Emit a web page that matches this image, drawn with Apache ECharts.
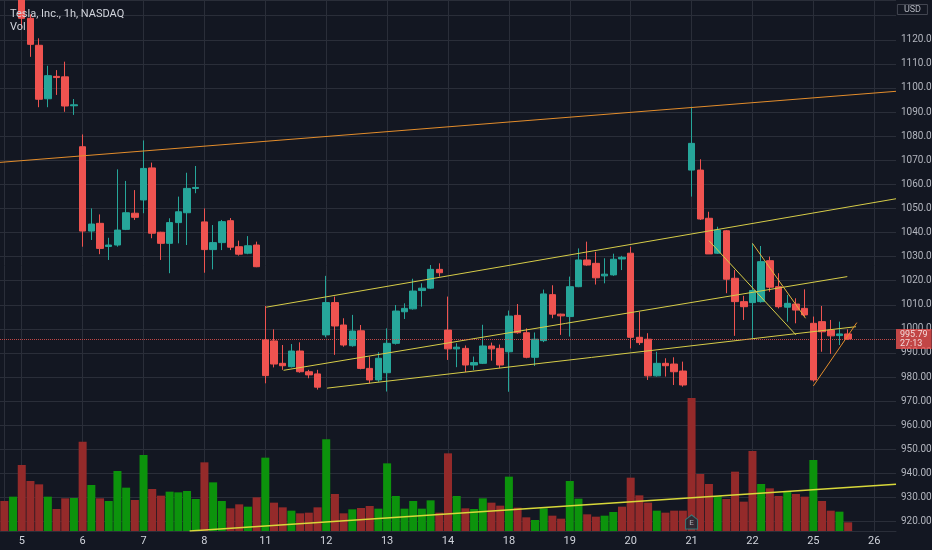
<!DOCTYPE html>
<html>
<head>
<meta charset="utf-8">
<title>Tesla, Inc., 1h</title>
<script src="https://cdn.jsdelivr.net/npm/echarts@6/dist/echarts.min.js"></script>
<style>
  html, body { margin: 0; padding: 0; background: #131722; }
  .kline { width: 932px; height: 550px; }
</style>
</head>
<body>
<div class="kline"></div>
<script>
// trading days on the time axis, 7 hourly bars a day
const days = [4, 5, 6, 7, 8, 11, 12, 13, 14, 18, 19, 20, 21, 22, 25, 26]
const barsPerDay = 7
const firstHour = 5   // the chart starts on the 6th bar of day 4
const lastHour = 2    // and the empty space runs to the 3rd bar of day 26

// OHLC per hourly bar
const opens = [1145, 1142, 1144, 1128.9, 1117.7, 1095.5, 1104.8, 1104.6, 1092.6,
  1075.6, 1040.6, 1043.8, 1034.2, 1034.8, 1041.3, 1048.0,
  1053.5, 1066.8, 1040.1, 1035.5, 1044.1, 1048.2, 1058.3,
  1044.4, 1032.9, 1035.8, 1044.9, 1034.1, 1031.4, 1034.8,
  995.4, 995.0, 985.7, 984.3, 990.8, 982.2, 981.3,
  997.5, 1010.9, 1001.6, 993.0, 999.2, 983.6, 978.8,
  981.8, 994.0, 1007.1, 1008.3, 1015.9, 1016.9, 1024.7,
  999.5, 991.7, 991.9, 985.0, 985.7, 992.9, 991.9,
  990.5, 1005.6, 998.4, 988.2, 995.1, 1014.2, 1006.1,
  1005.1, 1017.5, 1028.6, 1027.2, 1022.0, 1022.4, 1029.0,
  1031.4, 996.5, 995.7, 980.5, 985.7, 985.4, 982.5,
  1065.9, 1065.9, 1045.9, 1031.4, 1040.7, 1021.0, 1011.3,
  1010.9, 1011.3, 1028.3, 1017.5, 1009.0, 1010.3, 1008.5,
  1002.3, 1003.0, 999.5, 997.2, 997.9]
const highs = [1150, 1149, 1148, 1130.5, 1120.6, 1109.2, 1107.4, 1110.9, 1095.4,
  1080.7, 1050.0, 1047.5, 1037.8, 1066.2, 1061.4, 1057.6,
  1078.2, 1069.0, 1040.3, 1045.9, 1054.9, 1064.8, 1067.6,
  1050.0, 1043.1, 1045.2, 1046.0, 1036.6, 1038.5, 1036.2,
  1009.5, 999.8, 993.3, 993.7, 994.4, 983.0, 983.0,
  1022.0, 1013.4, 1004.4, 1005.8, 1001.6, 988.5, 990.3,
  1000.2, 1009.9, 1010.6, 1020.8, 1018.9, 1026.5, 1027.2,
  1013.4, 994.0, 993.1, 988.5, 1001.7, 994.3, 993.5,
  1007.6, 1010.3, 1000.2, 998.5, 1016.3, 1018.1, 1006.3,
  1021.7, 1033.4, 1036.2, 1032.0, 1029.3, 1031.2, 1030.3,
  1034.1, 1007.1, 998.2, 990.5, 987.8, 988.2, 986.4,
  1092.2, 1070.4, 1048.6, 1042.4, 1041.0, 1024.4, 1013.7,
  1035.5, 1034.4, 1030.0, 1023.1, 1014.1, 1012.7, 1016.4,
  1005.1, 1009.5, 1003.7, 1003.0, 999.8]
const lows = [1140, 1139, 1124.9, 1112.9, 1092.0, 1092.0, 1097.1, 1090.1, 1088.8,
  1034.1, 1036.9, 1031.0, 1028.6, 1034.1, 1041.0, 1045.2,
  1048.0, 1037.6, 1028.6, 1023.1, 1035.5, 1034.8, 1056.3,
  1023.3, 1024.7, 1032.7, 1032.7, 1030.4, 1031.0, 1025.6,
  977.4, 984.0, 983.0, 984.0, 981.8, 979.5, 974.8,
  996.5, 989.2, 992.6, 992.6, 983.2, 977.4, 978.0,
  974.0, 993.5, 1004.1, 1008.0, 1009.2, 1016.5, 1021.7,
  987.1, 984.1, 982.1, 982.9, 985.4, 986.8, 983.7,
  973.9, 998.0, 987.8, 984.6, 994.5, 1004.4, 997.5,
  996.8, 1017.3, 1026.2, 1018.4, 1018.9, 1022.0, 1024.4,
  991.9, 993.3, 978.8, 980.2, 980.2, 976.7, 976.0,
  1054.9, 1045.2, 1031.1, 1031.1, 1014.8, 997.1, 1003.7,
  996.1, 1010.9, 1015.4, 1008.5, 1003.0, 1002.3, 1005.1,
  978.1, 990.5, 989.6, 993.3, 995.4]
const closes = [1142, 1146, 1128.9, 1118.1, 1095.3, 1105.1, 1104.3, 1092.5, 1093.0,
  1040.6, 1043.5, 1033.4, 1034.8, 1041.0, 1048.2, 1046.3,
  1066.6, 1039.7, 1035.5, 1044.1, 1048.6, 1058.3, 1058.7,
  1032.9, 1035.8, 1044.5, 1033.9, 1031.0, 1034.5, 1025.8,
  980.6, 985.4, 984.7, 990.8, 982.2, 980.9, 975.8,
  1010.9, 1001.2, 993.3, 999.1, 983.6, 978.8, 987.8,
  994.0, 1007.4, 1008.5, 1015.7, 1016.9, 1024.7, 1023.3,
  991.7, 992.4, 985.0, 986.0, 992.9, 991.7, 985.0,
  1005.3, 998.4, 988.2, 995.7, 1014.5, 1006.1, 1005.4,
  1017.5, 1028.6, 1026.5, 1021.2, 1022.7, 1028.9, 1029.7,
  996.5, 994.3, 980.5, 985.7, 984.7, 982.2, 976.7,
  1077.0, 1045.6, 1031.1, 1041.0, 1020.6, 1011.3, 1009.2,
  1015.9, 1027.9, 1017.3, 1009.2, 1010.6, 1007.8, 1005.8,
  978.8, 998.8, 997.1, 997.9, 995.79]

// volume in millions of shares and its colour flag (u = green, d = red)
const volumes = [0.90, 1.03, 1.98, 1.50, 1.40, 1.03, 0.66, 0.98, 0.99,
  2.68, 1.38, 0.98, 0.90, 1.80, 1.30, 0.93,
  2.28, 1.26, 1.06, 1.18, 1.16, 1.20, 0.96,
  2.06, 1.46, 0.90, 0.68, 0.80, 0.73, 1.01,
  2.20, 0.85, 0.71, 0.61, 0.53, 0.55, 0.71,
  2.75, 1.11, 0.53, 0.65, 0.69, 0.75, 0.67,
  2.03, 1.05, 0.67, 0.90, 0.67, 0.92, 0.55,
  2.33, 1.05, 0.68, 0.66, 0.98, 0.85, 0.76,
  1.63, 0.70, 0.41, 0.33, 0.68, 0.46, 0.37,
  1.50, 0.97, 0.50, 0.43, 0.46, 0.57, 0.73,
  1.60, 1.07, 0.85, 0.61, 0.55, 0.61, 0.61,
  3.99, 1.71, 1.41, 1.05, 0.96, 1.78, 0.88,
  2.40, 1.41, 1.28, 1.05, 1.18, 1.11, 1.03,
  2.13, 0.90, 0.61, 0.58, 0.26]
const volDir = ['d', 'u', 'd', 'd', 'd', 'u', 'd', 'd', 'u',
  'd', 'u', 'd', 'u', 'u', 'u', 'd',
  'u', 'd', 'd', 'u', 'u', 'u', 'u',
  'd', 'u', 'u', 'd', 'd', 'u', 'd',
  'u', 'd', 'd', 'u', 'd', 'd', 'd',
  'u', 'd', 'd', 'u', 'd', 'd', 'u',
  'u', 'u', 'u', 'u', 'u', 'u', 'd',
  'd', 'u', 'd', 'u', 'u', 'd', 'd',
  'u', 'd', 'd', 'u', 'u', 'd', 'd',
  'u', 'u', 'd', 'd', 'u', 'u', 'd',
  'd', 'd', 'd', 'u', 'd', 'd', 'd',
  'd', 'd', 'd', 'u', 'd', 'd', 'd',
  'd', 'u', 'd', 'd', 'u', 'd', 'd',
  'u', 'd', 'd', 'u', 'd']

// hand drawn trend lines: [bar index, price] end points
const trendOrange = [[-0.5, 1069.1], [102.5, 1098.6]]
const channelTop = [[30.1, 1009.0], [102.5, 1054.0]]
const channelMid = [[32.1, 982.8], [96.9, 1021.7]]
const channelLow = [[37.1, 975.4], [97.9, 1000.9]]
const fallA = [[81, 1036.6], [91, 997.5]]
const fallB = [[86, 1035.5], [92.1, 1004.4]]
const riseLine = [[93, 976.3], [98, 1002.6]]
const volTrend = [[21.3, 916.1], [102.5, 935.5]]

// earnings flag bar, last price and bar countdown
const earningsBar = 79
const lastPrice = closes[closes.length - 1]
const countdown = '27:13'
const topLabel = 1120   // labels above this sit under the currency box

// build category list: "day|hour"
let cats = []
days.forEach((d, i) => {
  let from = i == 0 ? firstHour : 0
  let to = i == days.length - 1 ? lastHour : barsPerDay - 1
  for (let h = from; h <= to; h++) cats.push(d + '|' + h)
})
const isDayStart = (index) => cats[index].split('|')[1] == '0'

const up = '#26a69a'
const down = '#ef5350'
const gridColor = '#2a2e39'

let myChart = echarts.init(document.querySelector('.kline'))

let lineSeries = function (data, color, width) {
  return {
    type: 'line',
    xAxisIndex: 2,
    yAxisIndex: 0,
    data: data,
    symbol: 'none',
    silent: true,
    z: 4,
    lineStyle: { color: color, width: width || 1 }
  }
}

let option = {
  backgroundColor: '#131722',
  animation: false,
  textStyle: { fontFamily: 'Roboto, "Noto Sans", sans-serif' },
  title: [{
      text: 'Tesla, Inc., 1h, NASDAQ',
      subtext: 'Vol',
      left: 5,
      top: 4,
      itemGap: 2,
      textStyle: { color: '#d1d4dc', fontSize: 11, fontWeight: 'normal' },
      subtextStyle: { color: '#d1d4dc', fontSize: 11 }
    },
    {
      // currency box above the price scale
      text: 'USD',
      right: 4,
      top: 4,
      padding: [1, 7, 1, 7],
      borderColor: '#434651',
      borderWidth: 1,
      textStyle: { color: '#b2b5be', fontSize: 9, fontWeight: 'normal' }
    }
  ],
  grid: [
    { left: 0, right: 36, top: 0, bottom: 19, outerBoundsMode: 'none' },
    { left: 0, right: 36, bottom: 19, height: 200, outerBoundsMode: 'none' }
  ],
  xAxis: [{
      type: 'category',
      gridIndex: 0,
      data: cats,
      boundaryGap: true,
      axisLine: { lineStyle: { color: gridColor } },
      axisTick: { show: false },
      axisLabel: {
        interval: isDayStart,
        color: '#d1d4dc',
        fontSize: 11,
        margin: 5,
        formatter: v => v.split('|')[0]
      },
      splitLine: {
        show: true,
        interval: isDayStart,
        alignWithLabel: true,
        lineStyle: { color: gridColor }
      }
    },
    {
      type: 'category',
      gridIndex: 1,
      data: cats,
      show: false
    },
    {
      // same span as the bars, used for the drawn lines
      type: 'value',
      gridIndex: 0,
      min: -0.5,
      max: cats.length - 0.5,
      show: false
    }
  ],
  yAxis: [{
      type: 'value',
      gridIndex: 0,
      position: 'right',
      min: 916.1,
      max: 1136.5,
      splitNumber: 22,
      minInterval: 10,
      maxInterval: 10,
      axisLine: { show: true, lineStyle: { color: gridColor } },
      axisTick: { show: false },
      axisLabel: {
        color: '#b2b5be',
        fontSize: 10,
        margin: 5,
        showMinLabel: false,
        showMaxLabel: false,
        formatter: v => v > topLabel ? '' : v.toFixed(2)
      },
      splitLine: { lineStyle: { color: gridColor } }
    },
    {
      type: 'value',
      gridIndex: 1,
      min: 0,
      max: 6,
      show: false
    }
  ],
  series: [{
      name: 'Vol',
      type: 'bar',
      xAxisIndex: 1,
      yAxisIndex: 1,
      barCategoryGap: '8%',
      z: 2,
      data: volumes.map((v, i) => ({
        value: v,
        itemStyle: { color: volDir[i] == 'u' ? '#0c930c' : '#942a2a' }
      }))
    },
    {
      name: 'TSLA',
      type: 'candlestick',
      xAxisIndex: 0,
      yAxisIndex: 0,
      clip: true,
      barWidth: 7,
      z: 3,
      data: opens.map((o, i) => [o, closes[i], lows[i], highs[i]]),
      itemStyle: {
        color: up,
        color0: down,
        borderColor: up,
        borderColor0: down,
        borderWidth: 1
      },
      markLine: {
        symbol: 'none',
        silent: true,
        lineStyle: { color: down, type: 'dotted', width: 1, opacity: 0.8 },
        label: {
          position: 'end',
          distance: 0,
          formatter: lastPrice.toFixed(2) + '\n' + countdown,
          backgroundColor: down,
          color: '#ffffff',
          fontSize: 9,
          lineHeight: 9,
          padding: [1, 4, 1, 4]
        },
        data: [{ yAxis: lastPrice }]
      }
    },
    lineSeries(trendOrange, '#e38d2c'),
    lineSeries(channelTop, '#d6cc48'),
    lineSeries(channelMid, '#d6cc48'),
    lineSeries(channelLow, '#d6cc48'),
    lineSeries(fallA, '#d6cc48'),
    lineSeries(fallB, '#e2b23e'),
    lineSeries(riseLine, '#e38d2c'),
    lineSeries(volTrend, '#d8d83a', 1.5),
    {
      // earnings flag
      type: 'scatter',
      xAxisIndex: 1,
      yAxisIndex: 1,
      z: 5,
      data: [[earningsBar, 0]],
      symbol: 'path://M0,4 L5,0 L10,4 L10,12 L0,12 Z',
      symbolSize: [12, 14],
      symbolOffset: [0, -9],
      itemStyle: { color: '#1b2a33', borderColor: '#2f8c8c', borderWidth: 1 },
      label: {
        show: true,
        position: 'inside',
        offset: [0, 1],
        formatter: 'E',
        color: '#c9d0d6',
        fontSize: 8
      }
    }
  ]
}
myChart.setOption(option)
</script>
</body>
</html>
